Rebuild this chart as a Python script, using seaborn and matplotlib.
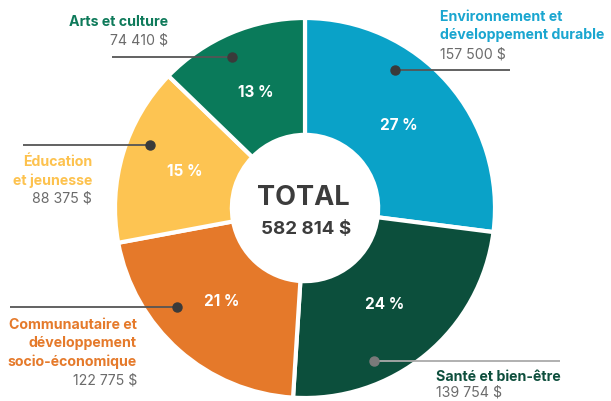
import matplotlib
matplotlib.use("Agg")
import matplotlib.pyplot as plt
import seaborn as sns

# ---- data ----
categories = ["Environnement et\ndéveloppement durable", "Santé et bien-être",
              "Communautaire et\ndéveloppement\nsocio-économique",
              "Éducation\net jeunesse", "Arts et culture"]
amounts = [157500, 139754, 122775, 88375, 74410]
amount_labels = ["157 500 $", "139 754 $", "122 775 $", "88 375 $", "74 410 $"]
total_label = "582 814 $"

# ---- style ----
sns.set_theme(style="white")
plt.rcParams['font.family'] = ['Inter', 'DejaVu Sans']
slice_colors = ["#0AA2C8", "#0C4F3C", "#E5792A", "#FDC452", "#0A7A5A"]
title_colors = ["#1AA6D0", "#0E4F3D", "#E57A2B", "#FDC24E", "#0E7A5A"]
value_color = "#6B6B6B"

W, H = 611, 401
fig = plt.figure(figsize=(W / 100, H / 100), dpi=100)
ax = fig.add_axes([0, 0, 1, 1])

def Y(y):
    return H - y

cx, cy, R = 305, 208, 190
wedges, texts, autotexts = ax.pie(
    amounts, colors=slice_colors, startangle=90, counterclock=False,
    center=(cx, Y(cy)), radius=R, pctdistance=0.66,
    autopct=lambda p: f"{round(p)} %",
    wedgeprops=dict(width=R * 0.615, edgecolor="white", linewidth=3),
    textprops=dict(color="white", fontsize=11, fontweight="bold"))

ax.set_xlim(0, W)
ax.set_ylim(0, H)
ax.set_aspect("auto")
ax.axis("off")

# center text
ax.text(cx - 2, Y(198), "TOTAL", ha="center", va="center", fontsize=19.5,
        fontweight="bold", color="#3C3C3C")
ax.text(cx + 1, Y(229), total_label, ha="center", va="center", fontsize=13.5,
        fontweight="bold", color="#3C3C3C")

# leader lines: (dot x, dot y, line end x, line color, dot color)
leaders = [
    (395, 70, 510, "#555555", "#3A3A3A"),
    (374, 361, 560, "#AAAAAA", "#7A7A7A"),
    (177, 307, 10, "#555555", "#3A3A3A"),
    (150, 145, 23, "#555555", "#3A3A3A"),
    (232, 57, 112, "#555555", "#3A3A3A"),
]
for (dx, dy, ex, lc, dc) in leaders:
    ax.plot([dx, ex], [Y(dy), Y(dy)], color=lc, lw=1.3, solid_capstyle="butt", zorder=3)
    ax.plot([dx], [Y(dy)], "o", color=dc, ms=6.5, zorder=4)

# category labels: (x, y of first line, ha, line spacing)
label_pos = [
    (440, 17, "left", 18.5),
    (436, 377, "left", 16.0),
    (137, 325, "right", 18.5),
    (92, 162, "right", 18.5),
    (168, 22, "right", 18.5),
]
for i, (lx, ly, ha, line_h) in enumerate(label_pos):
    lines = categories[i].split("\n")
    for j, t in enumerate(lines):
        ax.text(lx, Y(ly + j * line_h), t, ha=ha, va="center", fontsize=10.2,
                fontweight="bold", color=title_colors[i])
    ax.text(lx, Y(ly + len(lines) * line_h), amount_labels[i], ha=ha, va="center",
            fontsize=10.2, color=value_color)

fig.savefig("out.png", dpi=100)
